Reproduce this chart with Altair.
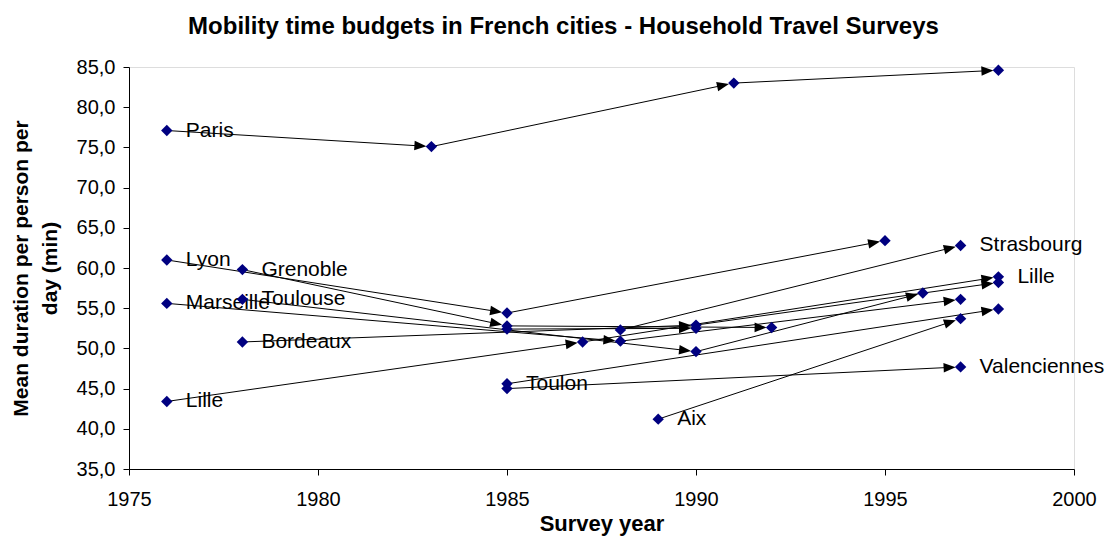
import math
import altair as alt
import pandas as pd

# ---- data (survey year, minutes per person per day) ----
paris_years = [1976, 1983, 1991, 1998]
paris_min = [77.1, 75.1, 83.0, 84.6]
lyon_years = [1976, 1985, 1995]
lyon_min = [61.0, 54.4, 63.4]
grenoble_years = [1978, 1985, 1992]
grenoble_min = [59.8, 52.8, 52.6]
marseille_years = [1976, 1988, 1997]
marseille_min = [55.6, 50.9, 56.1]
toulouse_years = [1978, 1990, 1996]
toulouse_min = [56.1, 49.6, 56.9]
bordeaux_years = [1978, 1990, 1998]
bordeaux_min = [50.8, 52.9, 58.2]
lille_years = [1976, 1987, 1998]
lille_min = [43.4, 50.8, 58.9]
strasbourg_years = [1988, 1997]
strasbourg_min = [52.3, 62.8]
toulon_years = [1985, 1998]
toulon_min = [45.6, 54.9]
valenciennes_years = [1985, 1997]
valenciennes_min = [45.0, 47.7]
aix_years = [1989, 1997]
aix_min = [41.2, 53.7]
other_years = [1985, 1990]
other_min = [52.4, 52.5]

# labels: text, series, index of the point it sits next to
label_text = ["Paris", "Lyon", "Grenoble", "Marseille", "Toulouse", "Bordeaux",
              "Lille", "Toulon", "Aix", "Strasbourg", "Lille", "Valenciennes"]
label_series = ["Paris", "Lyon", "Grenoble", "Marseille", "Toulouse", "Bordeaux",
                "Lille", "Toulon", "Aix", "Strasbourg", "Lille", "Valenciennes"]
label_point = [0, 0, 0, 0, 0, 0, 0, 0, 0, -1, -1, -1]

x_ticks = [1975, 1980, 1985, 1990, 1995, 2000]
y_ticks = [35, 40, 45, 50, 55, 60, 65, 70, 75, 80, 85]

series = {
    "Paris": (paris_years, paris_min),
    "Lyon": (lyon_years, lyon_min),
    "Grenoble": (grenoble_years, grenoble_min),
    "Marseille": (marseille_years, marseille_min),
    "Toulouse": (toulouse_years, toulouse_min),
    "Bordeaux": (bordeaux_years, bordeaux_min),
    "Lille": (lille_years, lille_min),
    "Strasbourg": (strasbourg_years, strasbourg_min),
    "Toulon": (toulon_years, toulon_min),
    "Valenciennes": (valenciennes_years, valenciennes_min),
    "Aix": (aix_years, aix_min),
    "Other": (other_years, other_min),
}

W, H = 945, 402
X_DOM = [1975, 2000]
Y_DOM = [35, 85]
px_year = W / (X_DOM[1] - X_DOM[0])
px_min = H / (Y_DOM[1] - Y_DOM[0])
BACK = 11  # px from target point centre to arrowhead centre

point_rows, seg_rows, head_rows = [], [], []
for name, (yrs, vals) in series.items():
    for yr, v in zip(yrs, vals):
        point_rows.append(dict(city=name, year=yr, minutes=v))
    for i in range(len(yrs) - 1):
        x1, y1, x2, y2 = yrs[i], vals[i], yrs[i + 1], vals[i + 1]
        dx = (x2 - x1) * px_year
        dy = -(y2 - y1) * px_min
        th = math.atan2(dy, dx)
        hx = x2 - BACK * math.cos(th) / px_year
        hy = y2 + BACK * math.sin(th) / px_min
        seg_rows.append(dict(city=name, year=x1, minutes=y1, year2=hx, minutes2=hy))
        head_rows.append(dict(city=name, year=hx, minutes=hy,
                              angle=math.degrees(th) % 360))

label_rows = []
for t, s, idx in zip(label_text, label_series, label_point):
    yrs, vals = series[s]
    label_rows.append(dict(label=t, year=yrs[idx], minutes=vals[idx]))

points = pd.DataFrame(point_rows)
segs = pd.DataFrame(seg_rows)
heads = pd.DataFrame(head_rows)
labels = pd.DataFrame(label_rows)

FONT = "Liberation Sans"

x_axis = alt.Axis(title="Survey year", values=x_ticks, format="d", grid=False,
                  domainColor="black", tickColor="black", tickSize=6,
                  labelFont=FONT, labelFontSize=20, labelColor="black",
                  labelPadding=14, labelFlush=False, labelOverlap=False,
                  titleFont=FONT, titleFontSize=22, titleFontWeight="bold",
                  titleColor="black", titleY=61, titleBaseline="alphabetic")
y_axis = alt.Axis(title=["Mean duration per person per", "day (min)"], values=y_ticks,
                  labelExpr="replace(format(datum.value, '.1f'), '.', ',')",
                  grid=False, domainColor="black", tickColor="black", tickSize=6,
                  labelFont=FONT, labelFontSize=20, labelColor="black",
                  labelPadding=8, labelOverlap=False,
                  titleFont=FONT, titleFontSize=21, titleFontWeight="bold",
                  titleColor="black", titleX=-102, titleLineHeight=29,
                  titleBaseline="alphabetic")

xs = alt.Scale(domain=X_DOM, nice=False, zero=False)
ys = alt.Scale(domain=Y_DOM, nice=False, zero=False)

X = alt.X("year:Q", scale=xs, axis=x_axis)
Y = alt.Y("minutes:Q", scale=ys, axis=y_axis)

text_layer = alt.Chart(labels).mark_text(
    align="left", baseline="middle", dx=19, font=FONT, fontSize=21, color="black"
).encode(x=X, y=Y, text="label:N")

rule_layer = alt.Chart(segs).mark_rule(color="black", strokeWidth=1).encode(
    x=X, y=Y, x2="year2:Q", y2="minutes2:Q")

head_layer = alt.Chart(heads).mark_point(
    shape="M1,0L-1,-0.8L-1,0.8Z", filled=True, color="black", opacity=1, size=144
).encode(x=X, y=Y, angle=alt.Angle("angle:Q", scale=None))

point_layer = alt.Chart(points).mark_point(
    shape="diamond", filled=True, color="#000080", opacity=1, size=130
).encode(x=X, y=Y)

chart = alt.layer(text_layer, rule_layer, head_layer, point_layer).properties(
    width=W, height=H,
    title=alt.TitleParams(
        text="Mobility time budgets in French cities - Household Travel Surveys",
        font=FONT, fontSize=24, fontWeight="bold", color="black",
        anchor="middle", dx=-38, offset=18),
    autosize=alt.AutoSizeParams(type="none"),
    padding={"left": 121, "top": 59, "right": 32, "bottom": 68},
).configure_view(stroke=None).configure(background="white")

chart.save("out.html", embed_options={"renderer": "svg", "actions": False})
